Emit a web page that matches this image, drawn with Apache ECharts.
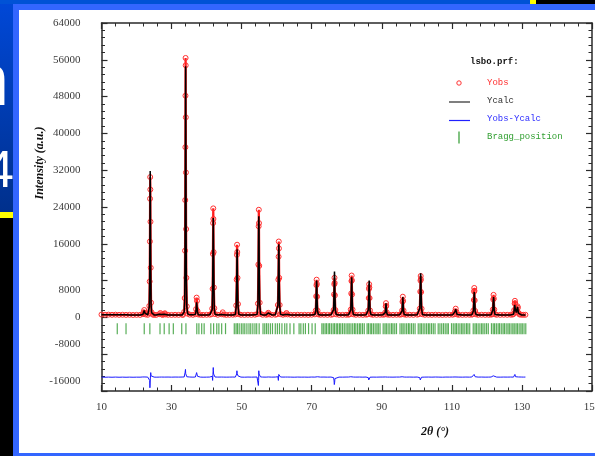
<!DOCTYPE html>
<html>
<head>
<meta charset="utf-8">
<script src="https://cdn.jsdelivr.net/npm/echarts@6/dist/echarts.min.js"></script>
<style>
html,body{margin:0;padding:0;width:595px;height:456px;overflow:hidden;background:#000;}
.bk{position:absolute;}
#chart{position:absolute;left:0;top:0;width:595px;height:456px;}
</style>
</head>
<body>
<div class="bk" style="left:0;top:0;width:13px;height:212px;background:linear-gradient(#0048d8,#00308c);"></div>
<div class="bk" style="left:0;top:212px;width:13px;height:6px;background:#ffff00;"></div>
<div class="bk" style="left:0;top:0;width:530px;height:4px;background:#0052d6;"></div>
<div class="bk" style="left:530px;top:0;width:6px;height:4px;background:#ffff00;"></div>
<div class="bk" style="left:-32px;top:43px;font:74px/1 'Liberation Sans',sans-serif;color:#fff;">n</div>
<div class="bk" style="left:-15px;top:143px;font:52px/1 'Liberation Sans',sans-serif;color:#fff;">4</div>
<div class="bk" style="left:13px;top:4px;width:582px;height:452px;background:#3366ff;"></div>
<div class="bk" style="left:19px;top:10px;width:576px;height:443px;background:#ffffff;"></div>
<div id="chart"></div>
<script>
// ---- data ----
const twoTheta = [
  10,11,12,13,14,15,16,17,18,19,20,21,
  21.8,22.0,22.2,22.4,22.6,
  23.2,23.5,23.65,23.75,23.82,23.86,23.9,23.94,23.98,24.05,24.15,24.3,24.6,
  25,25.6,
  26.5,26.8,27.1,
  27.5,
  27.9,28.1,28.3,
  29,30,31,32,33,
  33.3,33.6,33.75,33.85,33.9,33.94,33.97,34.0,34.03,34.06,34.1,34.15,34.22,34.35,34.6,
  35.2,36.1,
  36.8,37.0,37.15,37.25,37.4,37.6,
  38.2,39,40,40.9,
  41.4,41.6,41.72,41.8,41.86,41.9,41.94,42.0,42.08,42.2,42.4,
  43.2,
  44.3,44.6,44.9,
  45.6,46.5,47.5,
  48.2,48.45,48.58,48.65,48.7,48.75,48.82,48.95,49.2,
  49.8,50.8,51.8,52.8,53.8,
  54.4,54.65,54.78,54.85,54.9,54.95,55.02,55.15,55.4,
  56,57,
  57.35,57.6,57.85,
  58.6,59.6,
  60.1,60.35,60.48,60.55,60.6,60.65,60.72,60.85,61.1,
  61.8,
  62.5,62.8,63.1,
  64,65,66,67,68,69,70,
  70.9,71.15,71.28,71.35,71.4,71.45,71.52,71.65,71.9,
  72.5,73.5,74.5,75.5,
  76.0,76.25,76.38,76.45,76.5,76.55,76.62,76.75,77.0,
  77.8,78.8,79.8,80.5,
  80.9,81.15,81.28,81.35,81.4,81.45,81.52,81.65,81.9,
  82.6,83.6,84.6,85.5,
  85.9,86.15,86.28,86.35,86.4,86.45,86.52,86.65,86.9,
  87.5,88.5,89.5,90.3,
  90.8,91.0,91.12,91.2,91.28,91.4,91.6,
  92.2,93.2,94.2,95.1,
  95.6,95.8,95.92,96.0,96.08,96.2,96.4,
  97,98,99,100.1,
  100.6,100.85,100.98,101.05,101.1,101.15,101.22,101.35,101.6,
  102.3,103.3,104.3,105.3,106.3,107.3,108.3,109.3,110.2,
  110.7,110.9,111.1,111.3,111.5,
  112,113,114,115,115.7,
  115.95,116.15,116.28,116.35,116.4,116.45,116.52,116.65,116.9,
  117.5,118.5,119.5,120.5,121.2,
  121.5,121.7,121.82,121.9,121.98,122.1,122.3,
  122.8,123.8,124.8,125.8,126.8,127.3,
  127.6,127.8,127.92,128.0,128.08,128.2,128.4,128.6,128.75,128.85,129.0,129.3,
  129.8,130.4,131
];
const yObs = [
  620,580,600,560,590,550,570,540,560,530,550,540,
  700,1100,1600,1000,640,
  560,900,2500,7800,16500,25800,30500,27800,20800,10800,3200,1100,620,
  560,540,
  700,950,650,
  540,
  720,900,640,
  560,540,560,550,570,
  580,1200,4200,14500,25500,37000,48200,56400,54800,43500,31500,19200,8600,2400,800,
  600,560,
  700,1800,4300,3600,1400,640,
  570,540,560,590,
  700,1900,6200,13800,20500,23700,21400,14200,6500,2000,720,
  570,
  680,1100,620,
  550,560,580,
  650,2600,8200,13600,15800,14200,8600,2900,700,
  560,540,570,550,580,
  700,3000,11500,19800,23400,20500,11200,3200,760,
  570,560,
  700,1000,650,
  560,580,
  680,2700,8200,13200,16500,15000,8600,2700,700,
  570,
  680,950,640,
  560,540,570,550,560,540,580,
  660,1500,4600,7000,8200,7300,4500,1500,650,
  560,570,550,580,
  660,1600,5000,7200,8600,7500,4800,1600,660,
  560,550,570,580,
  680,1700,5200,7900,9100,8100,5000,1700,660,
  560,570,550,590,
  670,1500,4200,6200,7200,6500,4200,1500,650,
  560,550,570,580,
  640,1100,2400,3100,2500,1100,620,
  560,550,570,580,
  660,1500,3400,4500,3600,1500,640,
  560,570,550,590,
  700,1900,5600,8000,9000,8300,5500,1900,680,
  560,570,550,580,560,540,570,560,580,
  700,1300,1900,1200,650,
  560,550,570,560,600,
  680,1500,3800,5600,6400,5800,3700,1400,660,
  560,570,550,560,590,
  700,1700,3900,4900,4100,1700,680,
  560,550,570,560,580,620,
  720,1600,3000,3600,3100,1700,1100,1500,2400,2100,1000,640,
  580,560,570
];
const yCalc = [
  600,590,580,570,565,560,555,550,545,540,538,536,
  650,1050,1500,950,620,
  540,850,2300,8500,18800,27500,31800,29000,20500,9800,2900,1000,580,
  540,535,
  680,900,620,
  530,
  700,880,620,
  530,530,530,530,535,
  560,1150,4000,13500,24800,36200,46500,54600,54000,42800,30800,18500,8200,2300,760,
  560,550,
  660,1500,3300,3000,1200,600,
  545,540,545,560,
  680,1700,6900,13200,19200,21600,20000,13500,6200,1800,680,
  545,
  650,1000,600,
  540,540,545,
  630,2400,7500,12200,14800,13400,8000,2600,660,
  540,538,540,540,550,
  660,2700,13300,20500,22000,19800,10200,2900,700,
  545,545,
  680,950,620,
  545,550,
  650,2600,8900,13800,15900,14600,8300,2500,660,
  545,
  650,900,610,
  540,538,540,540,540,540,545,
  640,1400,4900,7300,8000,7200,4300,1400,620,
  540,540,540,550,
  640,1700,5800,8800,9950,8600,5100,1500,630,
  540,540,540,550,
  650,1600,4900,7600,8700,7800,4800,1600,630,
  540,540,540,555,
  650,1600,4800,7100,8000,7200,4500,1500,630,
  540,540,540,550,
  620,1050,2300,3050,2400,1050,600,
  540,540,540,550,
  640,1400,3300,4400,3500,1400,610,
  540,540,540,555,
  680,2000,6200,8800,9600,8800,5800,1900,650,
  540,540,540,540,540,538,540,540,550,
  680,1250,1800,1150,620,
  540,540,540,545,560,
  660,1400,3600,5000,5500,5000,3400,1300,630,
  540,540,540,540,555,
  680,1600,3600,4400,3800,1600,650,
  540,540,540,540,545,570,
  700,1500,2700,3000,2700,1600,1050,1450,2300,2000,950,620,
  545,540,540
];
const braggPos = [
  14.5,17.0,22.2,23.8,26.7,27.9,29.3,30.5,32.9,34.1,37.2,37.8,38.6,39.3,41.2,42.0,42.9,43.5,44.3,45.4,
  47.9,48.4,48.8,49.3,49.9,50.4,50.9,51.5,52.1,52.6,53.2,53.8,54.3,55.0,
  56.1,56.6,57.1,57.6,58.2,58.8,59.6,60.2,60.8,61.5,62.3,62.9,63.8,64.9,66.4,66.9,67.6,68.2,69.1,70.1,71.0,
  72.9,73.3,73.8,74.2,74.7,75.1,75.6,76.1,76.5,77.0,77.4,77.9,78.3,78.8,79.3,79.8,80.3,80.7,81.2,81.7,82.2,82.6,83.1,83.6,84.0,84.5,85.0,
  85.8,86.2,86.7,87.1,87.6,88.1,88.6,89.0,89.5,
  90.4,90.9,91.3,91.8,92.3,92.8,93.2,93.7,94.2,
  95.2,95.7,96.1,96.6,97.1,97.6,98.0,98.5,99.0,99.5,
  100.4,100.9,101.3,101.8,102.3,102.8,103.3,103.7,104.2,104.7,105.2,
  106.1,106.6,107.1,107.6,108.1,108.6,109.0,
  109.9,110.4,110.9,111.3,111.8,112.3,112.8,113.2,113.7,114.2,114.6,115.1,
  116.1,116.6,117.0,117.5,118.0,118.5,118.9,119.4,119.9,120.4,
  121.3,121.8,122.2,122.7,123.2,123.6,124.1,124.6,125.0,125.5,126.0,126.4,126.9,127.4,127.8,128.3,128.7,129.2,129.7,130.1,130.6,131.1
];
const diffOffset = -13000;   // Yobs-Ycalc curve is plotted shifted down
const braggLevel = -2450;    // row of Bragg position ticks
const legendLabels = ['Yobs', 'Ycalc', 'Yobs-Ycalc', 'Bragg_position'];
const fileLabel = 'lsbo.prf:';

// ---- build series ----
const n = Math.min(twoTheta.length, yObs.length, yCalc.length);
const obsData = [], calcData = [], diffData = [];
for (let i = 0; i < n; i++) {
  obsData.push([twoTheta[i], yObs[i]]);
  calcData.push([twoTheta[i], yCalc[i]]);
  diffData.push([twoTheta[i], yObs[i] - yCalc[i] + diffOffset]);
}
const braggData = braggPos.map(p => [p, braggLevel]);

const chart = echarts.init(document.getElementById('chart'), null, {renderer: 'canvas'});
const axisCol = '#2a2a2a';
const labelFont = {fontFamily: "'Liberation Serif', serif", fontSize: 11, color: '#3a3a3a'};
function xAx(pos, showLabel) {
  return {
    type: 'value', position: pos, min: 10, max: 150, interval: 20,
    axisLine: {show: true, onZero: false, lineStyle: {color: axisCol, width: 1.5}},
    axisTick: {show: true, inside: true, length: 6, lineStyle: {color: axisCol, width: 1.2}},
    minorTick: {show: true, splitNumber: 5, length: 3.5, lineStyle: {color: axisCol, width: 1}},
    axisLabel: Object.assign({show: showLabel, margin: 11, formatter: v => String(v), hideOverlap: false}, labelFont),
    splitLine: {show: false}
  };
}
// the original plot draws a few y labels slightly off their ticks
function yLabel(v) {
  if (v === 8000) return '{dn|' + v + '}';
  if (v < 0) return '{up|' + v + '}';
  return String(v);
}
function yAx(pos, showLabel) {
  return {
    type: 'value', position: pos, min: -16000, max: 64000, interval: 8000,
    axisLine: {show: true, onZero: false, lineStyle: {color: axisCol, width: 1.5}},
    axisTick: {show: true, inside: true, length: 6, lineStyle: {color: axisCol, width: 1.2}},
    minorTick: {show: true, splitNumber: 5, length: 3.5, lineStyle: {color: axisCol, width: 1}},
    axisLabel: Object.assign({show: showLabel, margin: 21, formatter: yLabel, hideOverlap: false,
      rich: {
        dn: Object.assign({padding: [19, 0, 0, 0]}, labelFont),
        up: Object.assign({padding: [0, 0, 20, 0]}, labelFont)
      }}, labelFont),
    splitLine: {show: false}
  };
}
const monoFont = "'Liberation Mono','DejaVu Sans Mono',monospace";
const lx = 487, ly = [83, 101, 119.5, 137.5];
const option = {
  animation: false,
  backgroundColor: 'transparent',
  grid: {left: 101.5, right: 3, top: 23, bottom: 65, containLabel: false, outerBoundsMode: 'none'},
  xAxis: [xAx('bottom', true), xAx('top', false)],
  yAxis: [yAx('left', true), yAx('right', false)],
  series: [
    {name: legendLabels[2], type: 'line', data: diffData, showSymbol: false,
     lineStyle: {color: '#1a1aff', width: 1}, z: 2},
    {name: legendLabels[3], type: 'scatter', data: braggData, symbol: 'rect',
     symbolSize: [1.2, 11], itemStyle: {color: '#2e9a2e'}, z: 2},
    {name: legendLabels[0], type: 'line', data: obsData, symbol: 'circle', symbolSize: 5,
     showSymbol: true, showAllSymbol: true,
     lineStyle: {color: '#ff1a1a', width: 2.2},
     itemStyle: {color: 'rgba(255,0,0,0)', borderColor: '#ff3030', borderWidth: 1}, z: 3},
    {name: legendLabels[1], type: 'line', data: calcData, showSymbol: false,
     lineStyle: {color: '#000', width: 1.5}, z: 4}
  ],
  graphic: [
    {type: 'text', left: 470, top: 57, style: {text: fileLabel, font: "bold 9px " + monoFont, fill: '#111'}},
    {type: 'circle', shape: {cx: 459, cy: ly[0], r: 2.2}, style: {fill: 'none', stroke: '#ff3030', lineWidth: 1}},
    {type: 'text', left: lx, top: ly[0] - 5, style: {text: legendLabels[0], font: "9px " + monoFont, fill: '#ff3030'}},
    {type: 'line', shape: {x1: 449, y1: ly[1] + 1, x2: 470, y2: ly[1] + 1}, style: {stroke: '#555', lineWidth: 1.5}},
    {type: 'text', left: lx, top: ly[1] - 5, style: {text: legendLabels[1], font: "9px " + monoFont, fill: '#333'}},
    {type: 'line', shape: {x1: 449, y1: ly[2] + 1, x2: 470, y2: ly[2] + 1}, style: {stroke: '#2020ff', lineWidth: 1.2}},
    {type: 'text', left: lx, top: ly[2] - 5, style: {text: legendLabels[2], font: "9px " + monoFont, fill: '#3030ff'}},
    {type: 'line', shape: {x1: 459, y1: ly[3] - 6, x2: 459, y2: ly[3] + 6}, style: {stroke: '#2e9a2e', lineWidth: 1.2}},
    {type: 'text', left: lx, top: ly[3] - 5, style: {text: legendLabels[3], font: "9px " + monoFont, fill: '#33a033'}},
    {type: 'text', x: 40, y: 163, rotation: Math.PI / 2,
     style: {text: 'Intensity (a.u.)', font: "italic bold 12px 'Liberation Serif', serif", fill: '#111', align: 'center', verticalAlign: 'middle'}},
    {type: 'text', x: 435, y: 432,
     style: {text: '2θ (°)', font: "italic bold 12px 'Liberation Serif', serif", fill: '#111', align: 'center', verticalAlign: 'middle'}}
  ]
};
chart.setOption(option);
</script>
</body>
</html>
